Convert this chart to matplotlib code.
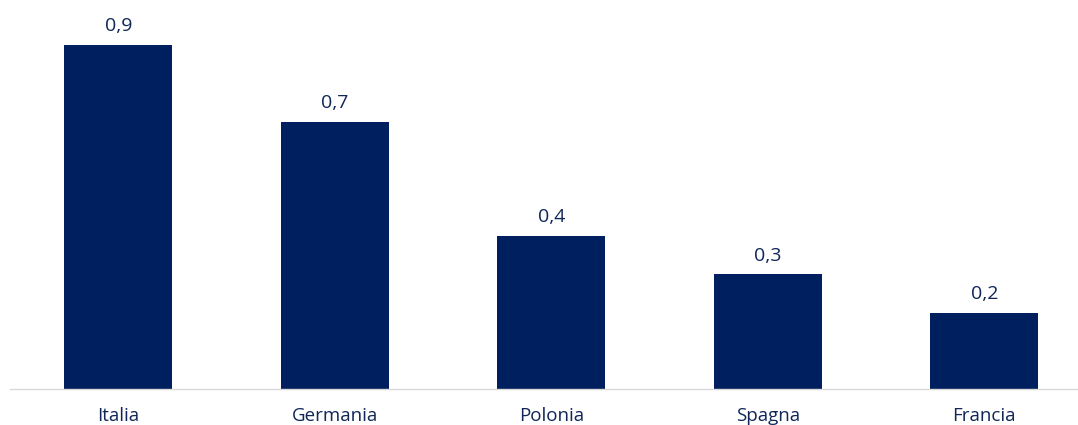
import matplotlib
matplotlib.use("Agg")
import matplotlib.pyplot as plt

categories = ["Italia", "Germania", "Polonia", "Spagna", "Francia"]
values = [0.9, 0.7, 0.4, 0.3, 0.2]
value_labels = ["0,9", "0,7", "0,4", "0,3", "0,2"]

bar_color = "#001F5E"
text_color = "#0F2657"

plt.rcParams["font.family"] = ["Open Sans", "DejaVu Sans"]

W, H = 1078, 425
fig = plt.figure(figsize=(W / 100, H / 100), dpi=100)
# axes spans from x=10px to the right edge, baseline at y=389px
left_px, bottom_px = 10, H - 389
ax = fig.add_axes([left_px / W, bottom_px / H, (W - left_px) / W, 389 / H])

step_px = 216.5
x = list(range(len(categories)))
ax.bar(x, values, width=0.5, color=bar_color, zorder=2)
ax.set_xlim(-0.5, -0.5 + (W - left_px) / step_px)
ax.set_ylim(0, 389 / 382)

for xi, v, lab in zip(x, values, value_labels):
    ax.annotate(lab, (xi, v), xytext=(0, 7), textcoords="offset points",
                ha="center", va="bottom", fontsize=14, color=text_color)

ax.set_xticks(x)
ax.set_xticklabels(categories, fontsize=13.5, color=text_color)
ax.tick_params(axis="x", length=0, pad=13)
ax.set_yticks([])
for side in ["top", "right", "left"]:
    ax.spines[side].set_visible(False)
ax.spines["bottom"].set_color("#D9D9D9")
ax.spines["bottom"].set_linewidth(1.0)

fig.savefig("out.png", dpi=100)
